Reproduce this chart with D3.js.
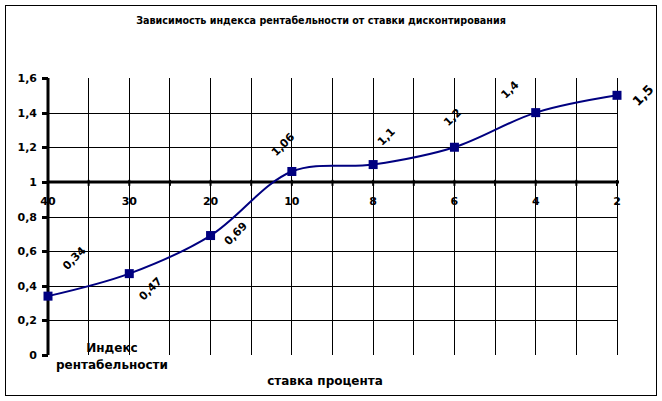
<!DOCTYPE html>
<html><head><meta charset="utf-8">
<script src="https://cdn.jsdelivr.net/npm/d3@7"></script>
<style>
html,body{margin:0;padding:0;background:#fff;}
text{font-family:"DejaVu Sans",sans-serif;font-weight:bold;fill:#000;}
</style></head>
<body><svg id="c" width="662" height="401"></svg>
<script>
const categories = ["40","30","20","10","8","6","4","2"];
const values = [0.34,0.47,0.69,1.06,1.1,1.2,1.4,1.5];
const valueLabels = ["0,34","0,47","0,69","1,06","1,1","1,2","1,4","1,5"];
const yTicks = [0,0.2,0.4,0.6,0.8,1,1.2,1.4,1.6];
const yTickLabels = ["0","0,2","0,4","0,6","0,8","1","1,2","1,4","1,6"];
const title = "Зависимость индекса рентабельности от ставки дисконтирования";
const xTitle = "ставка процента";
const yTitle = ["Индекс","рентабельности"];

// label placement offsets (layout only)
const labelOffsets = [[26,-38],[21,15],[25,-2],[-9,-27],[13,-28],[-2,-30],[-26,-23],[26,0]];

const svg = d3.select("#c");
svg.append("rect").attr("x",5.5).attr("y",5.5).attr("width",651).attr("height",390)
  .attr("fill","#fff").attr("stroke","#000").attr("stroke-width",1);

const x = d3.scalePoint().domain(categories).range([48,617]);
const y = d3.scaleLinear().domain([0,1.6]).range([355,78]);

// vertical gridlines at categories and midpoints
const xs = categories.map(c=>x(c));
const gridX = [];
xs.forEach((v,i)=>{ gridX.push(v); if(i<xs.length-1) gridX.push((v+xs[i+1])/2); });
svg.append("g").selectAll("line").data(gridX.slice(1)).join("line")
  .attr("x1",d=>d).attr("x2",d=>d).attr("y1",y(1.6)).attr("y2",y(0))
  .attr("stroke","#000").attr("stroke-width",1).attr("shape-rendering","crispEdges");
// horizontal gridlines
svg.append("g").selectAll("line").data(yTicks.filter(t=>t>0&&t<1.6&&t!==1)).join("line")
  .attr("x1",x(categories[0])).attr("x2",x(categories[categories.length-1]))
  .attr("y1",d=>Math.round(y(d))+0.5).attr("y2",d=>Math.round(y(d))+0.5)
  .attr("stroke","#000").attr("stroke-width",1);

// Y axis
svg.append("line").attr("x1",48).attr("x2",48).attr("y1",y(1.6)).attr("y2",y(0))
  .attr("stroke","#000").attr("stroke-width",3);
svg.append("g").selectAll("line").data(yTicks).join("line")
  .attr("x1",42).attr("x2",48).attr("y1",d=>Math.round(y(d))+0.5).attr("y2",d=>Math.round(y(d))+0.5)
  .attr("stroke","#000").attr("stroke-width",3);
svg.append("g").selectAll("text").data(yTicks).join("text")
  .attr("x",37).attr("y",d=>y(d)+4).attr("text-anchor","end").attr("font-size",11)
  .text((d,i)=>yTickLabels[i]);

// X axis at y=1
svg.append("line").attr("x1",48).attr("x2",619).attr("y1",y(1)).attr("y2",y(1))
  .attr("stroke","#000").attr("stroke-width",3);
svg.append("g").selectAll("line").data(gridX).join("line")
  .attr("x1",d=>d).attr("x2",d=>d).attr("y1",y(1)-2).attr("y2",y(1)+4)
  .attr("stroke","#000").attr("stroke-width",2);
svg.append("g").selectAll("text").data(categories).join("text")
  .attr("x",d=>x(d)).attr("y",y(1)+23).attr("text-anchor","middle").attr("font-size",11)
  .text(d=>d);

// line
const line = d3.line().x((d,i)=>x(categories[i])).y(d=>y(d)).curve(d3.curveCatmullRom.alpha(0.5));
svg.append("path").datum(values).attr("d",line).attr("fill","none")
  .attr("stroke","#000080").attr("stroke-width",2);
svg.append("g").selectAll("rect").data(values).join("rect")
  .attr("x",(d,i)=>x(categories[i])-4.5).attr("y",d=>y(d)-4.5).attr("width",9).attr("height",9)
  .attr("fill","#000080");

// data labels
svg.append("g").selectAll("text").data(values).join("text")
  .attr("transform",(d,i)=>`translate(${x(categories[i])+labelOffsets[i][0]},${y(d)+labelOffsets[i][1]}) rotate(-45)`)
  .attr("text-anchor","middle").attr("dy","0.35em").attr("font-size",(d,i)=>i===7?13:11)
  .text((d,i)=>valueLabels[i]);

// titles
svg.append("text").attr("x",321).attr("y",24).attr("text-anchor","middle").attr("font-size",9.6).text(title);
svg.append("text").attr("x",325).attr("y",385).attr("text-anchor","middle").attr("font-size",12).text(xTitle);
svg.append("text").attr("x",112).attr("y",352).attr("text-anchor","middle").attr("font-size",12).text(yTitle[0]);
svg.append("text").attr("x",112).attr("y",369).attr("text-anchor","middle").attr("font-size",12).text(yTitle[1]);
</script></body></html>
